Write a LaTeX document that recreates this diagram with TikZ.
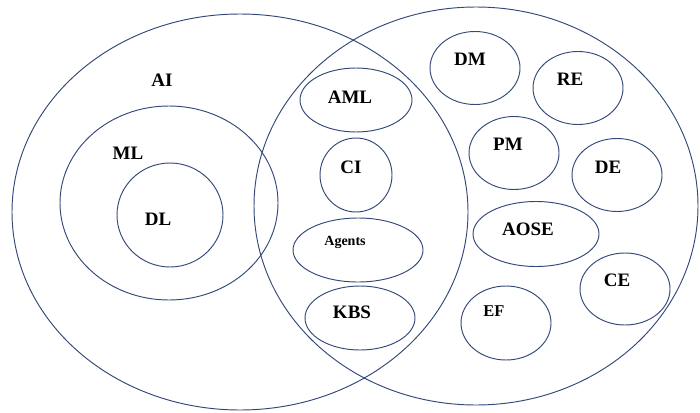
\documentclass[tikz,border=0pt]{standalone}
\usepackage{fontspec}
\setmainfont{Liberation Serif}
\usetikzlibrary{shapes.geometric}
\definecolor{navy}{HTML}{34497A}
\tikzset{
  ring/.style={draw=navy, line width=0.95pt, ellipse, inner sep=0pt},
  lbl/.style={font=\fontsize{19}{20}\selectfont\bfseries, text=black, inner sep=0pt},
  smalllbl/.style={font=\fontsize{14}{15}\selectfont\bfseries, text=black, inner sep=0pt},
  eflbl/.style={font=\fontsize{16.5}{17}\selectfont\bfseries, text=black, inner sep=0pt}
}
\begin{document}
\begin{tikzpicture}[x=1pt,y=-1pt]
\useasboundingbox (0,0) rectangle (700,412);
% big sets
\node[ring, minimum width=456pt, minimum height=396pt] (ai) at (240,212) {};
\node[ring, minimum width=444pt, minimum height=398pt] (se) at (476,206) {};
\node[ring, minimum width=218pt, minimum height=194pt] (ml) at (169,203) {};
\node[ring, minimum width=106pt, minimum height=104pt] (dl) at (170,215) {};
% overlap
\node[ring, minimum width=112pt, minimum height=64pt] (aml) at (356,100) {};
\node[ring, minimum width=72pt, minimum height=74pt] (ci) at (356,175) {};
\node[ring, minimum width=130pt, minimum height=64pt] (agents) at (358,250) {};
\node[ring, minimum width=110pt, minimum height=64pt] (kbs) at (360,318) {};
% right side
\node[ring, minimum width=90pt, minimum height=73pt] (dm) at (475,68) {};
\node[ring, minimum width=90pt, minimum height=73pt] (re) at (578,88) {};
\node[ring, minimum width=90pt, minimum height=73pt] (pm) at (514,153) {};
\node[ring, minimum width=90pt, minimum height=73pt] (de) at (617,175) {};
\node[ring, minimum width=126pt, minimum height=65pt] (aose) at (536,234) {};
\node[ring, minimum width=90pt, minimum height=72pt] (ce) at (625,289) {};
\node[ring, minimum width=90pt, minimum height=74pt] (ef) at (506,323) {};
% labels
\node[lbl] (tai) at (162,80) {AI};
\node[lbl] (tml) at (128,153) {ML};
\node[lbl] (tdl) at (158,219) {DL};
\node[lbl] (taml) at (350,97) {AML};
\node[lbl] (tci) at (351,167) {CI};
\node[smalllbl] (tagents) at (345,242) {Agents};
\node[lbl] (tkbs) at (352,312) {KBS};
\node[lbl] (tdm) at (470,59) {DM};
\node[lbl] (tre) at (570,79) {RE};
\node[lbl] (tpm) at (508,144) {PM};
\node[lbl] (tde) at (608,167) {DE};
\node[lbl] (taose) at (528,229) {AOSE};
\node[lbl] (tce) at (617,280) {CE};
\node[eflbl] (tef) at (494,311) {EF};
\end{tikzpicture}
\end{document}
